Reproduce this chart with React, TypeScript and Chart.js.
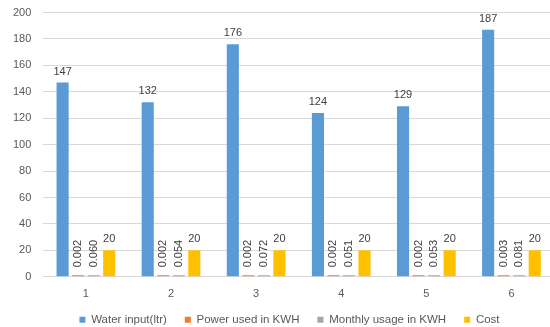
import React, { useEffect, useRef } from "react";
import { Chart, registerables } from "chart.js";

Chart.register(...registerables);

const categories = ["1", "2", "3", "4", "5", "6"];
const waterInput = [147, 132, 176, 124, 129, 187];
const powerUsed = [0.002, 0.002, 0.002, 0.002, 0.002, 0.003];
const monthlyUsage = [0.06, 0.054, 0.072, 0.051, 0.053, 0.081];
const cost = [20, 20, 20, 20, 20, 20];
const seriesNames = ["Water input(ltr)", "Power used in KWH", "Monthly usage in KWH", "Cost"];
const seriesColors = ["#5B9BD5", "#ED7D31", "#A5A5A5", "#FFC000"];
const labelDecimals = [0, 3, 3, 0];
const rotatedLabel = [false, true, true, false];

const FONT = "'Liberation Sans', Arial, sans-serif";

const dataLabelPlugin = {
  id: "dataLabels",
  afterDatasetsDraw(chart: any) {
    const ctx = chart.ctx;
    ctx.save();
    ctx.font = `11px ${FONT}`;
    ctx.fillStyle = "#404040";
    chart.data.datasets.forEach((ds: any, di: number) => {
      const meta = chart.getDatasetMeta(di);
      meta.data.forEach((el: any, i: number) => {
        const v = ds.data[i];
        const text = v.toFixed(labelDecimals[di]);
        const top = Math.min(el.y, el.base);
        if (rotatedLabel[di]) {
          ctx.save();
          ctx.translate(el.x, top - 8);
          ctx.rotate(-Math.PI / 2);
          ctx.textAlign = "left";
          ctx.textBaseline = "middle";
          ctx.fillText(text, 0, 0);
          ctx.restore();
        } else {
          ctx.textAlign = "center";
          ctx.textBaseline = "alphabetic";
          ctx.fillText(text, el.x, top - 8);
        }
      });
    });
    ctx.restore();
  },
};

const legendShiftPlugin = {
  id: "legendShift",
  afterLayout(chart: any) {
    const lg = chart.legend;
    if (!lg) return;
    const targetCenter = 289.5;
    const dx = targetCenter - (lg.left + lg.right) / 2;
    lg.left += dx;
    lg.right += dx;
    lg.top = 296;
    lg.bottom = chart.height;
    lg.height = lg.bottom - lg.top;
  },
};

export default function App() {
  const ref = useRef<HTMLCanvasElement | null>(null);
  useEffect(() => {
    document.body.style.margin = "0";
    document.body.style.overflow = "hidden";
    const canvas = ref.current!;
    const chart = new Chart(canvas, {
      type: "bar",
      data: {
        labels: categories,
        datasets: [waterInput, powerUsed, monthlyUsage, cost].map((d, i) => ({
          label: seriesNames[i],
          data: d,
          backgroundColor: seriesColors[i],
          borderWidth: 0,
          minBarLength: 1.5,
          categoryPercentage: 0.73,
          barPercentage: 0.78,
        })),
      },
      options: {
        responsive: false,
        animation: false,
        devicePixelRatio: 1,
        layout: { padding: { left: 1, right: 1, top: 12.5, bottom: -5 } },
        plugins: {
          tooltip: { enabled: false },
          legend: {
            position: "bottom",
            maxHeight: 28,
            labels: {
              boxWidth: 6,
              boxHeight: 6,
              padding: 18,
              color: "#595959",
              font: { family: FONT, size: 11.5 },
            },
          },
        },
        scales: {
          x: {
            grid: { display: false },
            border: { display: true, color: "#D9D9D9" },
            ticks: { color: "#595959", font: { family: FONT, size: 11 }, padding: 3 },
          },
          y: {
            min: 0,
            max: 200,
            grid: { color: "#D9D9D9", drawTicks: false },
            border: { display: false },
            ticks: { stepSize: 20, color: "#595959", font: { family: FONT, size: 11 }, padding: 12 },
            afterFit: (scale: any) => {
              scale.paddingTop = 0;
              scale.paddingBottom = 0;
            },
          },
        },
      },
      plugins: [dataLabelPlugin, legendShiftPlugin],
    });
    return () => chart.destroy();
  }, []);
  return <canvas ref={ref} width={555} height={327} style={{ display: "block" }} />;
}
